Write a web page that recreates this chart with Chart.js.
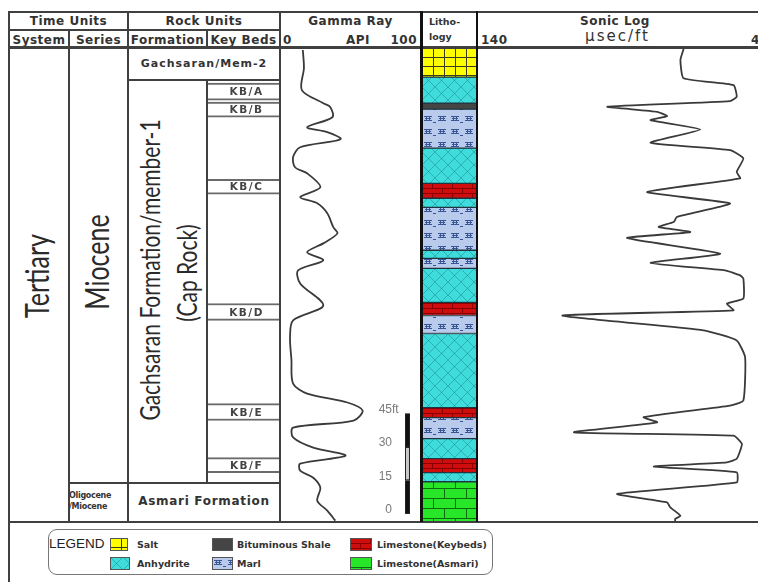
<!DOCTYPE html>
<html>
<head>
<meta charset="utf-8">
<title>Well log</title>
<script src="https://cdn.jsdelivr.net/npm/chart.js@4.4.1/dist/chart.umd.min.js"></script>
<style>
  html, body { margin: 0; padding: 0; background: #fff; }
  body { position: relative; width: 758px; height: 582px; overflow: hidden; font-family: "DejaVu Sans", sans-serif; color: #333; }
  .ln { position: absolute; background: #404040; }
  .t { position: absolute; white-space: nowrap; }
  .hd { font-weight: bold; font-size: 12px; letter-spacing: 0.5px; text-align: center; line-height: 18px; height: 18px; }
  .rot { position: absolute; white-space: nowrap; font-family: Lato, sans-serif; font-weight: 400; color: #2a2a2a; transform: translate(-50%, -50%) rotate(-90deg) scale(1, 1.3); }
  canvas { position: absolute; }
  #legend { position: absolute; left: 48px; top: 529px; width: 443px; height: 44px; border: 1.5px solid #777; border-radius: 9px; }
  .lg { position: absolute; font-weight: bold; font-size: 9.5px; color: #333; line-height: 13px; white-space: nowrap; }
</style>
</head>
<body>

<!-- header -->
<div class="t hd" style="left:9px;top:12px;width:119px">Time Units</div>
<div class="t hd" style="left:128px;top:12px;width:152px">Rock Units</div>
<div class="t hd" style="left:281px;top:12px;width:139px">Gamma Ray</div>
<div class="t" style="left:429px;top:14px;font-weight:bold;font-size:9.5px;line-height:15px">Litho-<br>logy</div>
<div class="t hd" style="left:560px;top:12px;width:110px">Sonic Log</div>

<div class="t hd" style="left:9px;top:31px;width:60px">System</div>
<div class="t hd" style="left:69px;top:31px;width:59px">Series</div>
<div class="t hd" style="left:128px;top:31px;width:79px">Formation</div>
<div class="t hd" style="left:207px;top:31px;width:73px">Key Beds</div>
<div class="t hd" style="left:283px;top:31px">0</div>
<div class="t hd" style="left:330px;top:31px;width:56px">API</div>
<div class="t hd" style="left:370px;top:31px;width:47px;text-align:right">100</div>
<div class="t hd" style="left:481px;top:31px">140</div>
<div class="t" style="left:560px;top:27px;width:115px;text-align:center;font-size:15px;letter-spacing:2px">µsec/ft</div>
<div class="t hd" style="left:751px;top:31px">40</div>

<!-- stratigraphic names -->
<div class="rot" style="left:36px;top:276px;font-size:25px">Tertiary</div>
<div class="rot" style="left:96px;top:262px;font-size:25px">Miocene</div>
<div class="rot" style="left:149px;top:270px;font-size:21px">Gachsaran Formation/member-1</div>
<div class="rot" style="left:186px;top:273px;font-size:21px">(Cap Rock)</div>
<div class="t" style="left:128px;top:57px;width:152px;text-align:center;font-weight:bold;font-size:11px;letter-spacing:1px">Gachsaran/Mem-2</div>
<div class="t" style="left:128px;top:494px;width:152px;text-align:center;font-weight:bold;font-size:12px;letter-spacing:0.7px">Asmari Formation</div>
<div class="t" style="left:69px;top:490px;width:59px;overflow:hidden;font-weight:bold;font-size:8px;line-height:11px;letter-spacing:-0.3px">Oligocene<br>/Miocene</div>

<canvas id="keybeds" width="71" height="474" style="left:208px;top:48px"></canvas>
<canvas id="gamma" width="139" height="474" style="left:281px;top:48px"></canvas>
<canvas id="litho" width="54" height="474" style="left:422px;top:48px"></canvas>
<canvas id="sonic" width="290" height="474" style="left:478px;top:48px"></canvas>

<div id="legend"></div>
<div class="t" style="left:49px;top:536px;font-family:'Liberation Sans',sans-serif;font-size:13.5px;color:#222">LEGEND</div>

<script>
// depth in ft below the top of the section
const DEPTH_MAX = 213;

// gamma ray log
const gammaDepth = [0.9, 9.0, 18.9, 24.8, 26.6, 31.1, 35.6, 37.8, 41.0, 44.6, 49.0, 53.6, 56.3, 62.6, 67.0, 69.8, 74.3, 80.6, 83.3, 87.8, 91.8, 95.4, 99.9, 105.8, 115.7, 122.4, 130.0, 140.0, 150.8, 155.3, 159.3, 162.9, 167.4, 170.6, 175.0, 179.6, 183.2, 186.8, 189.9, 193.1, 197.6, 203.4, 207.9, 212.4];
const gammaAPI = [15.7, 16.5, 15.0, 30.4, 35.5, 37.0, 18.8, 33.3, 42.8, 13.8, 8.7, 10.1, 18.8, 28.3, 13.8, 26.1, 33.3, 37.7, 40.6, 30.4, 18.8, 30.4, 12.3, 13.8, 30.4, 8.7, 6.5, 7.5, 8.7, 18.8, 47.8, 58.7, 52.2, 8.7, 8.7, 23.2, 46.4, 13.8, 13.8, 23.2, 28.3, 26.1, 33.3, 39.1];

// sonic log
const sonicDepth = [0.5, 5.4, 13.6, 16.7, 21.9, 23.9, 26.4, 28.7, 30.6, 32.4, 36.6, 42.6, 45.9, 49.6, 55.7, 58.6, 64.7, 69.9, 75.9, 78.2, 80.4, 82.7, 85.4, 92.4, 96.6, 99.9, 102.2, 103.6, 112.6, 114.9, 117.9, 120.2, 126.9, 131.4, 138.9, 158.4, 160.7, 165.9, 168.2, 172.7, 174.2, 177.9, 184.6, 186.2, 188.1, 190.7, 195.2, 200.4, 204.2, 206.4, 210.2, 211.6, 212.9];
const sonicDT = [69.1, 70.2, 69.1, 51.9, 50.8, 53.1, 95.4, 78.2, 74.8, 80.5, 63.4, 80.5, 53.1, 48.5, 50.8, 49.6, 81.7, 53.1, 71.4, 72.5, 77.7, 66.8, 88.6, 56.5, 80.5, 54.8, 49.6, 48.5, 48.5, 54.2, 51.9, 110.9, 62.2, 50.8, 47.9, 48.5, 53.1, 82.9, 78.2, 106.9, 51.9, 49.0, 50.8, 54.2, 79.4, 50.8, 50.8, 92.0, 74.8, 73.7, 70.2, 72.0, 72.0];

// lithology column
const lithTop  = [0, 13.1, 24.8, 27.5, 45.0, 60.8, 67.5, 71.6, 90.9, 94.5, 99.0, 114.3, 120.2, 128.3, 161.6, 166.1, 175.5, 184.5, 190.8, 194.9];
const lithBase = [13.1, 24.8, 27.5, 45.0, 60.8, 67.5, 71.6, 90.9, 94.5, 99.0, 114.3, 120.2, 128.3, 161.6, 166.1, 175.5, 184.5, 190.8, 194.9, 213];
const lithType = ['salt', 'anhydrite', 'shale', 'marl', 'anhydrite', 'limeKey', 'anhydrite', 'marl', 'anhydrite', 'marl', 'anhydrite', 'limeKey', 'marl', 'anhydrite', 'limeKey', 'marl', 'anhydrite', 'limeKey', 'anhydrite', 'limeAsmari'];

// key beds
const keyBedNames = ['KB/A', 'KB/B', 'KB/C', 'KB/D', 'KB/E', 'KB/F'];
const keyBedTop  = [15.8, 24.3, 59.0, 114.8, 159.8, 184.1];
const keyBedBase = [23.4, 31.1, 65.7, 122.4, 167.4, 190.8];

// formation / series boundaries
const mem2Base = 14.4;
const member1Base = 195.3;

// scale bar (ft)
const scaleBarFt = [0, 15, 30, 45];
const scaleBarZeroDepth = 209.3;

// legend
const legendNames = ['Salt', 'Anhydrite', 'Bituminous Shale', 'Marl', 'Limestone(Keybeds)', 'Limestone(Asmari)'];
const legendTypes = ['salt', 'anhydrite', 'shale', 'marl', 'limeKey', 'limeAsmari'];

const TOP = 48;
const body = document.body;

function line(x, y, w, h, color) {
  const d = document.createElement('div');
  d.className = 'ln';
  d.style.left = x + 'px'; d.style.top = y + 'px';
  d.style.width = w + 'px'; d.style.height = h + 'px';
  if (color) d.style.background = color;
  body.appendChild(d);
}

// pattern tiles for the rock types
function brick(w, h, fill, stroke) {
  return g => {
    g.fillStyle = fill; g.fillRect(0, 0, w, h);
    g.fillStyle = stroke;
    g.fillRect(0, 0, w, 1); g.fillRect(0, h / 2, w, 1);
    g.fillRect(0, 0, 1, h / 2); g.fillRect(w / 2, h / 2, 1, h / 2);
  };
}
const tiles = {
  salt: [11, 9, g => {
    g.fillStyle = '#ffff00'; g.fillRect(0, 0, 11, 9);
    g.fillStyle = '#3b3b20'; g.fillRect(0, 0, 11, 1); g.fillRect(0, 0, 1, 9);
  }],
  anhydrite: [13, 13, g => {
    g.fillStyle = '#3fdcdc'; g.fillRect(0, 0, 13, 13);
    g.strokeStyle = 'rgba(20,120,130,0.45)'; g.lineWidth = 1;
    g.beginPath(); g.moveTo(0, 0); g.lineTo(13, 13); g.moveTo(13, 0); g.lineTo(0, 13); g.stroke();
  }],
  shale: [4, 4, g => { g.fillStyle = '#454545'; g.fillRect(0, 0, 4, 4); }],
  marl: [27, 13, g => {
    g.fillStyle = '#b9cbec'; g.fillRect(0, 0, 27, 13);
    g.fillStyle = '#3a5594';
    for (const ox of [2, 16]) {
      g.fillRect(ox, 3, 8, 1); g.fillRect(ox + 1, 5, 6, 1); g.fillRect(ox, 7, 8, 1);
      g.fillRect(ox + 2, 3, 1, 4); g.fillRect(ox + 5, 3, 1, 4);
    }
    g.fillRect(11, 9, 3, 1);
  }],
  limeKey: [20, 10, brick(20, 10, '#cf0d0d', '#8a0000')],
  limeAsmari: [22, 20, brick(22, 20, '#28e628', '#0d6a0d')]
};
function pattern(ctx, type) {
  const [w, h, draw] = tiles[type];
  const c = document.createElement('canvas');
  c.width = w; c.height = h;
  draw(c.getContext('2d'));
  return ctx.createPattern(c, 'repeat');
}

const baseOpts = {
  responsive: false,
  animation: false,
  events: [],
  layout: { padding: 0 },
  plugins: { legend: { display: false }, tooltip: { enabled: false } }
};
const depthAxis = () => ({ type: 'linear', min: 0, max: DEPTH_MAX, reverse: true, display: false });

// key beds
const kbLabels = {
  id: 'kbLabels',
  afterDatasetsDraw(chart) {
    const { ctx, chartArea, scales: { y } } = chart;
    ctx.save();
    ctx.font = 'bold 10.5px "DejaVu Sans"';
    ctx.letterSpacing = '1.5px';
    ctx.fillStyle = '#444';
    ctx.textAlign = 'center';
    ctx.textBaseline = 'middle';
    keyBedNames.forEach((name, i) => {
      const yc = (y.getPixelForValue(keyBedTop[i]) + y.getPixelForValue(keyBedBase[i])) / 2;
      ctx.fillText(name, (chartArea.left + chartArea.right) / 2 + 3, yc + 1);
    });
    ctx.restore();
  }
};
const kbChart = new Chart(document.getElementById('keybeds'), {
  type: 'bar',
  data: {
    labels: ['Key Beds'],
    datasets: keyBedNames.map((n, i) => ({
      label: n,
      data: [[keyBedTop[i], keyBedBase[i]]],
      backgroundColor: '#fff',
      borderColor: '#6a6a6a',
      borderWidth: { top: 2, bottom: 2, left: 0, right: 0 },
      borderSkipped: false,
      barPercentage: 1, categoryPercentage: 1, grouped: false
    }))
  },
  options: { ...baseOpts, scales: { x: { display: false }, y: depthAxis() } },
  plugins: [kbLabels]
});

// gamma ray with scale bar
const scaleBar = {
  id: 'scaleBar',
  afterDatasetsDraw(chart) {
    const { ctx, chartArea, scales: { y } } = chart;
    const bx = chartArea.right - 15, bw = 5;
    ctx.save();
    for (let i = 0; i < scaleBarFt.length - 1; i++) {
      const y0 = y.getPixelForValue(scaleBarZeroDepth - scaleBarFt[i]);
      const y1 = y.getPixelForValue(scaleBarZeroDepth - scaleBarFt[i + 1]);
      ctx.fillStyle = i === 1 ? '#c8c8c8' : '#111';
      ctx.fillRect(bx, y1, bw, y0 - y1);
      ctx.strokeStyle = '#222';
      ctx.lineWidth = 1;
      ctx.strokeRect(bx + 0.5, y1 + 0.5, bw - 1, y0 - y1 - 1);
    }
    ctx.font = '12px "Liberation Sans"';
    ctx.fillStyle = '#7a7a7a';
    ctx.textBaseline = 'bottom';
    scaleBarFt.forEach((ft, i) => {
      const yy = y.getPixelForValue(scaleBarZeroDepth - ft) + 2;
      ctx.textAlign = 'right';
      ctx.fillText(String(ft), bx - 13, yy);
      if (i === scaleBarFt.length - 1) {
        ctx.textAlign = 'left';
        ctx.fillText('ft', bx - 13, yy);
      }
    });
    ctx.restore();
  }
};
new Chart(document.getElementById('gamma'), {
  type: 'line',
  data: {
    datasets: [{
      label: 'Gamma Ray',
      data: gammaDepth.map((d, i) => ({ x: gammaAPI[i], y: d })),
      borderColor: '#3a3a3a', borderWidth: 1.8, pointRadius: 0, tension: 0.3, fill: false
    }]
  },
  options: { ...baseOpts, indexAxis: 'y', scales: { x: { type: 'linear', min: 0, max: 100, display: false }, y: depthAxis() } },
  plugins: [scaleBar]
});

// lithology
const lithCtx = document.getElementById('litho').getContext('2d');
new Chart(lithCtx, {
  type: 'bar',
  data: {
    labels: ['Lithology'],
    datasets: lithType.map((t, i) => ({
      label: t,
      data: [[lithTop[i], lithBase[i]]],
      backgroundColor: pattern(lithCtx, t),
      borderColor: '#1f3540',
      borderWidth: { top: 1, bottom: 1, left: 0, right: 0 },
      borderSkipped: false,
      barPercentage: 1, categoryPercentage: 1, grouped: false
    }))
  },
  options: { ...baseOpts, scales: { x: { display: false }, y: depthAxis() } }
});

// sonic
new Chart(document.getElementById('sonic'), {
  type: 'line',
  data: {
    datasets: [{
      label: 'Sonic Log',
      data: sonicDepth.map((d, i) => ({ x: sonicDT[i], y: d })),
      borderColor: '#3a3a3a', borderWidth: 1.8, pointRadius: 0, tension: 0.15, fill: false
    }]
  },
  options: { ...baseOpts, indexAxis: 'y', scales: { x: { type: 'linear', min: 40, max: 140, reverse: true, display: false }, y: depthAxis() } }
});

// table frame
const dy = d => TOP + kbChart.scales.y.getPixelForValue(d);
line(8, 11, 760, 2);
line(8, 29, 273, 2);
line(8, 46, 760, 3);
line(8, 521, 760, 2);
line(8, 11, 2, 571);
line(68, 29, 2, 493);
line(127, 11, 2, 511);
line(206, 29, 2, 18);
line(279, 11, 2, 511);
line(420, 11, 3, 511, '#111');
line(476, 11, 2, 511, '#111');
line(127, dy(mem2Base) - 1, 154, 2);
line(206, dy(mem2Base) - 1, 2, dy(member1Base) - dy(mem2Base));
line(68, dy(member1Base) - 1, 213, 2);

// legend
const legendPos = [[110, 538, 18], [110, 557, 20], [212, 538, 21], [212, 557, 21], [350, 538, 22], [350, 557, 22]];
const legendTextX = [137, 137, 237, 237, 377, 377];
legendNames.forEach((name, i) => {
  const [x, y, w] = legendPos[i];
  const c = document.createElement('canvas');
  c.width = w; c.height = 13;
  c.style.left = x + 'px'; c.style.top = y + 'px';
  const g = c.getContext('2d');
  g.fillStyle = pattern(g, legendTypes[i]);
  g.fillRect(0, 0, w, 13);
  g.strokeStyle = '#555';
  g.strokeRect(0.5, 0.5, w - 1, 12);
  body.appendChild(c);
  const t = document.createElement('div');
  t.className = 'lg';
  t.style.left = legendTextX[i] + 'px';
  t.style.top = y + 'px';
  t.textContent = name;
  body.appendChild(t);
});
</script>
</body>
</html>
